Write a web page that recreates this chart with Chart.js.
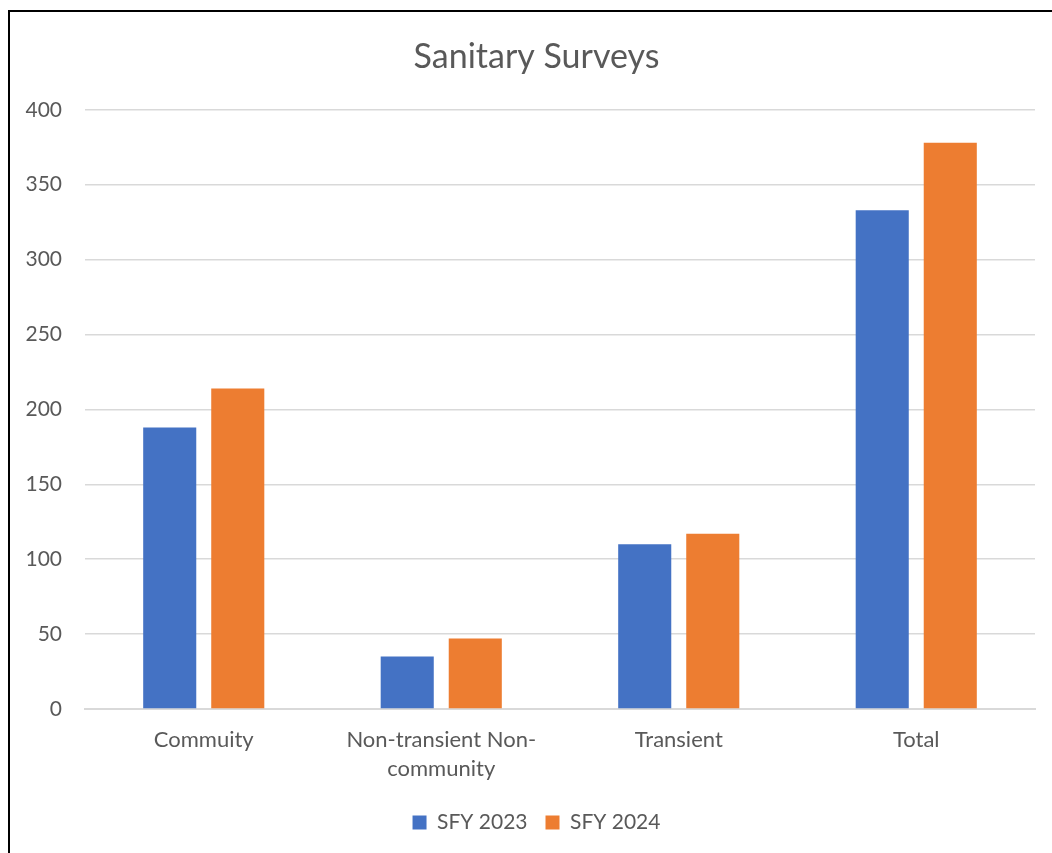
<!DOCTYPE html>
<html>
<head>
<meta charset="utf-8">
<script src="https://cdn.jsdelivr.net/npm/chart.js@4"></script>
<style>
  html, body { margin: 0; padding: 0; background: #fff; overflow: hidden; }
  #frame { position: absolute; left: 8px; top: 10px; width: 1200px; height: 1000px;
           border-left: 2px solid #000; border-top: 2px solid #000; }
  #wrap { position: absolute; left: 0; top: 0; width: 1052px; height: 853px; }
</style>
</head>
<body>
<div id="frame"></div>
<div id="wrap"><canvas id="c" width="1052" height="853"></canvas></div>
<script>
const categories = ["Commuity", ["Non-transient Non-", "community"], "Transient", "Total"];
const sfy2023 = [188, 35, 110, 333];
const sfy2024 = [214, 47, 117, 378];
const seriesNames = ["SFY 2023", "SFY 2024"];
const yTicks = [0, 50, 100, 150, 200, 250, 300, 350, 400];

const FONT = "Lato, 'Open Sans', sans-serif";
const GREY = "#595959";

// let the y-axis labels extend into the left layout padding without being clipped
const widenY = {
  id: 'widenY',
  afterLayout(chart) { const y = chart.scales.y; y.width += y.left; y.left = 0; }
};

new Chart(document.getElementById('c'), {
  type: 'bar',
  data: {
    labels: categories,
    datasets: [
      { label: seriesNames[0], data: sfy2023, backgroundColor: '#4472C4', categoryPercentage: 0.573, barPercentage: 0.78 },
      { label: seriesNames[1], data: sfy2024, backgroundColor: '#ED7D31', categoryPercentage: 0.573, barPercentage: 0.78 }
    ]
  },
  plugins: [widenY],
  options: {
    responsive: false,
    animation: false,
    devicePixelRatio: 1,
    layout: { padding: { left: 38, right: 17, top: 37, bottom: 10 } },
    plugins: {
      title: {
        display: true, text: 'Sanitary Surveys', color: GREY,
        font: { family: FONT, size: 34, weight: 'normal' },
        padding: { top: 0, bottom: 32 }
      },
      legend: {
        position: 'bottom',
        labels: {
          color: GREY, boxWidth: 14, boxHeight: 14, padding: 18,
          font: { family: FONT, size: 21 }
        }
      },
      tooltip: { enabled: false }
    },
    scales: {
      x: {
        afterFit: (axis) => { axis.height = 85; },
        grid: { display: false, drawTicks: false },
        border: { display: true, color: '#d9d9d9', width: 2 },
        ticks: { color: GREY, font: { family: FONT, size: 22, lineHeight: 1.3 }, padding: 17, maxRotation: 0, autoSkip: false }
      },
      y: {
        min: 0, max: 400,
        afterBuildTicks: (axis) => { axis.ticks = yTicks.map(v => ({ value: v })); },
        afterFit: (axis) => { axis.width = 47; },
        grid: { color: '#d9d9d9', lineWidth: 1.5, drawTicks: false },
        border: { display: false },
        ticks: { color: GREY, font: { family: FONT, size: 21 }, padding: 23 }
      }
    }
  }
});
</script>
</body>
</html>
